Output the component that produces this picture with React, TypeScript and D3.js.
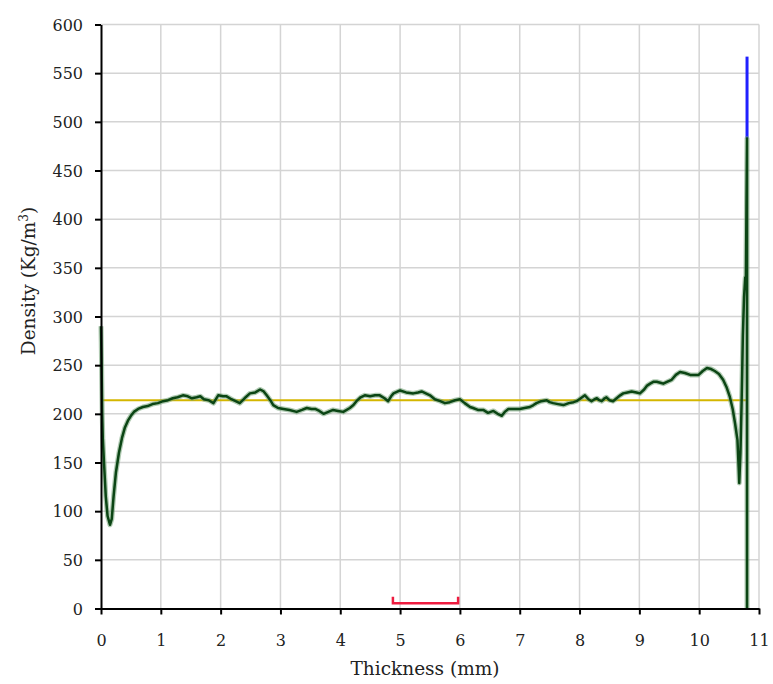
import React, { useEffect, useRef } from 'react';
import * as d3 from 'd3';

// density profile
const thickness = [
  0.0, 0.01, 0.02, 0.03, 0.05, 0.08, 0.11, 0.15, 0.18, 0.21, 0.25, 0.3, 0.35, 0.4, 0.45, 0.5,
  0.55, 0.62, 0.7, 0.78, 0.86, 0.95, 1.04, 1.12, 1.2, 1.28, 1.37, 1.45, 1.52, 1.6, 1.66, 1.72,
  1.8, 1.88, 1.96, 2.04, 2.1, 2.18, 2.25, 2.32, 2.4, 2.49, 2.58, 2.66, 2.72, 2.77, 2.83, 2.88,
  2.96, 3.05, 3.15, 3.27, 3.36, 3.44, 3.52, 3.58, 3.65, 3.72, 3.8, 3.88, 3.96, 4.05, 4.16, 4.22,
  4.27, 4.34, 4.41, 4.5, 4.58, 4.66, 4.74, 4.8, 4.85, 4.89, 5.0, 5.1, 5.22, 5.3, 5.36, 5.43,
  5.5, 5.58, 5.67, 5.75, 5.83, 5.92, 6.0, 6.08, 6.17, 6.22, 6.3, 6.39, 6.47, 6.56, 6.63, 6.7,
  6.75, 6.81, 6.9, 7.0, 7.08, 7.17, 7.23, 7.28, 7.36, 7.45, 7.5, 7.56, 7.64, 7.73, 7.82, 7.9,
  7.95, 8.02, 8.09, 8.15, 8.2, 8.25, 8.29, 8.33, 8.37, 8.42, 8.45, 8.5, 8.56, 8.62, 8.68, 8.73,
  8.8, 8.87, 8.95, 9.01, 9.08, 9.13, 9.18, 9.24, 9.29, 9.35, 9.4, 9.47, 9.54, 9.61, 9.68, 9.76,
  9.85, 9.92, 9.99, 10.06, 10.13, 10.2, 10.26, 10.33, 10.4, 10.46, 10.51, 10.56, 10.6, 10.64, 10.66, 10.67,
  10.69, 10.71, 10.73, 10.75, 10.77, 10.78, 10.79, 10.8, 10.8,
];
const density = [
  290, 250, 200, 175, 150, 115, 95, 86, 92, 115, 140, 160, 175, 186, 193, 198,
  202, 205, 207, 208, 210, 211, 213, 214, 216, 217, 219, 218, 216, 217, 218, 215,
  214, 211, 219, 218, 218, 215, 213, 211, 216, 221, 222, 225, 223, 219, 214, 209,
  206, 205, 204, 202, 204, 206, 205, 205, 203, 200, 202, 204, 203, 202, 206, 209,
  213, 217, 219, 218, 219, 219, 216, 213, 218, 221, 224, 222, 221, 222, 223, 221,
  219, 215, 213, 211, 212, 214, 215, 211, 207, 206, 204, 204, 201, 203, 200, 198,
  202, 205, 205, 205, 206, 207, 209, 211, 213, 214, 212, 211, 210, 209, 211, 212,
  213, 216, 219, 215, 213, 215, 216, 214, 213, 216, 217, 214, 213, 216, 219, 221,
  222, 223, 222, 221, 225, 229, 231, 233, 233, 232, 231, 233, 235, 240, 243, 242,
  240, 240, 240, 244, 247, 246, 244, 241, 235, 227, 218, 205, 190, 173, 145, 129,
  160, 214, 280, 320, 340, 330, 410, 483, 0,
];

const meanDensity = 214;
const meanRange = [0, 10.79];
const peakX = 10.8;
const peakRange = [483, 567];
const bracketX = [4.88, 5.97];
const bracketY = [5.5, 12];

const xTicks = [0, 1, 2, 3, 4, 5, 6, 7, 8, 9, 10, 11];
const yTicks = [0, 50, 100, 150, 200, 250, 300, 350, 400, 450, 500, 550, 600];

export default function App() {
  const svgRef = useRef<SVGSVGElement>(null);
  const W = 773;
  const H = 684;
  const left = 101, right = 759, top = 24.5, bottom = 608.5;

  useEffect(() => {
    const svg = d3.select(svgRef.current);
    svg.selectAll('*').remove();

    const x = d3.scaleLinear().domain([0, 11]).range([left, right]);
    const y = d3.scaleLinear().domain([0, 600]).range([bottom, top]);
    const font = '"DejaVu Serif", serif';

    // grid
    svg.append('g')
      .selectAll('line')
      .data(xTicks.slice(1))
      .join('line')
      .attr('x1', d => x(d)).attr('x2', d => x(d))
      .attr('y1', top).attr('y2', bottom)
      .attr('stroke', '#d4d4d4').attr('stroke-width', 1.5);
    svg.append('g')
      .selectAll('line')
      .data(yTicks.slice(1))
      .join('line')
      .attr('x1', left).attr('x2', right)
      .attr('y1', d => y(d)).attr('y2', d => y(d))
      .attr('stroke', '#d4d4d4').attr('stroke-width', 1.5);

    // mean line
    svg.append('line')
      .attr('x1', x(meanRange[0])).attr('x2', x(meanRange[1]))
      .attr('y1', y(meanDensity)).attr('y2', y(meanDensity))
      .attr('stroke', '#d4b600').attr('stroke-width', 2);

    // blue marker at the far edge
    svg.append('line')
      .attr('x1', x(peakX)).attr('x2', x(peakX))
      .attr('y1', y(peakRange[0])).attr('y2', y(peakRange[1]))
      .attr('stroke', '#2020ff').attr('stroke-width', 3);

    const pts: [number, number][] = thickness.map((t, i) => [t, density[i]]);
    const line = d3.line<[number, number]>().x(d => x(d[0])).y(d => y(d[1]));

    svg.append('path')
      .attr('d', line(pts))
      .attr('fill', 'none')
      .attr('stroke', '#6f9f72')
      .attr('stroke-opacity', 0.55)
      .attr('stroke-width', 5)
      .attr('stroke-linejoin', 'round');
    svg.append('path')
      .attr('d', line(pts))
      .attr('fill', 'none')
      .attr('stroke', '#0b4514')
      .attr('stroke-width', 2.5)
      .attr('stroke-linejoin', 'round');

    // red bracket
    svg.append('path')
      .attr('d', `M${x(bracketX[0])},${y(bracketY[1])}V${y(bracketY[0])}H${x(bracketX[1])}V${y(bracketY[1])}`)
      .attr('fill', 'none')
      .attr('stroke', '#ee1c3f')
      .attr('stroke-width', 2.5);

    // axes
    const xAxis = svg.append('g')
      .attr('transform', `translate(0,${bottom})`)
      .call(d3.axisBottom(x).tickValues(xTicks).tickSize(6).tickSizeOuter(0).tickFormat(d3.format('d')));
    const yAxis = svg.append('g')
      .attr('transform', `translate(${left},0)`)
      .call(d3.axisLeft(y).tickValues(yTicks).tickSize(6).tickSizeOuter(0).tickFormat(d3.format('d')));

    [xAxis, yAxis].forEach(g => {
      g.select('.domain').attr('stroke', '#000').attr('stroke-width', 2);
      g.selectAll('.tick line').attr('stroke', '#000').attr('stroke-width', 2);
      g.selectAll('.tick text')
        .attr('font-family', font)
        .attr('font-size', 16)
        .attr('fill', '#222');
    });
    xAxis.selectAll('.tick text').attr('dy', null).attr('y', 37);
    yAxis.selectAll('.tick text').attr('x', -18).attr('dy', '0.36em');

    svg.append('text')
      .attr('x', 425).attr('y', 675)
      .attr('text-anchor', 'middle')
      .attr('font-family', font).attr('font-size', 18.5).attr('fill', '#222')
      .text('Thickness (mm)');

    const yl = svg.append('text')
      .attr('transform', 'translate(35,281) rotate(-90)')
      .attr('text-anchor', 'middle')
      .attr('font-family', font).attr('font-size', 18.5).attr('fill', '#222');
    yl.append('tspan').text('Density (Kg/m');
    yl.append('tspan').attr('baseline-shift', 'super').attr('font-size', 12).text('3');
    yl.append('tspan').text(')');
  }, []);

  return (
    <svg
      ref={svgRef}
      width={W}
      height={H}
      style={{ position: 'absolute', left: 0, top: 0, background: '#fff' }}
    />
  );
}
